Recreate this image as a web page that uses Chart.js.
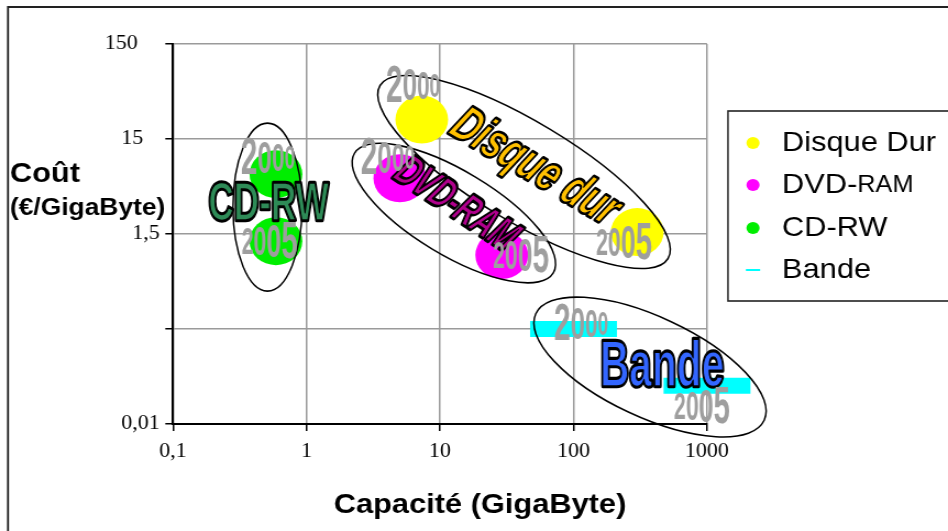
<!DOCTYPE html>
<html>
<head>
<meta charset="utf-8">
<script src="https://cdn.jsdelivr.net/npm/chart.js@4.4.1/dist/chart.umd.min.js"></script>
<style>
  html, body { margin: 0; padding: 0; background: #fff; }
  #myChart { width: 948px; height: 531px; display: block; }
</style>
</head>
<body>
<canvas id="myChart" width="862" height="531" style="width:948px;height:531px"></canvas>
<script>
//  data (capacity in GB, cost in EUR/GB)
const seriesNames = ['Disque Dur', 'DVD-RAM', 'CD-RW', 'Bande'];
const years = ['2000', '2005'];
const disqueCapacity = [7.3, 300];
const disqueCost = [24, 1.57];
const dvdCapacity = [5, 29];
const dvdCost = [5.8, 0.9];
const cdCapacity = [0.59, 0.59];
const cdCost = [6.4, 1.26];
const bandeCapacity = [100, 1000];
const bandeCost = [0.15, 0.038];

const xTicks = [0.1, 1, 10, 100, 1000];
const xTickLabels = ['0,1', '1', '10', '100', '1000'];
const yTicks = [0.015, 0.15, 1.5, 15, 150];
const yTickLabels = ['0,01', '', '1,5', '15   ', '150    '];

//  the picture is a bit wider than it is tall, the canvas is stretched by this
const S = 948 / 862;

//  annotations drawn over the chart, anchored in data units
const ellipses = [
  { x: 42.6, y: 6.74, rx: 168, ry: 50, angle: 31 },
  { x: 12.7, y: 2.49, rx: 116, ry: 42, angle: 31 },
  { x: 0.51, y: 2.88, rx: 34.5, ry: 84, angle: 0 },
  { x: 374, y: 0.0597, rx: 126, ry: 50, angle: 25 }
];
const wordArts = [
  { text: 'Disque dur', x: 51.5, y: 7.43, size: 33, sy: 1.5, angle: 33, fill: '#ffc000', italic: true },
  { text: 'DVD-RAM', x: 13.2, y: 3.03, size: 27, sy: 1.6, angle: 36, fill: '#b0008c', italic: true },
  { text: 'CD-RW', x: 0.52, y: 3.03, size: 32, sy: 1.7, angle: 0, fill: '#2e8b57', italic: false },
  { text: 'Bande', x: 460, y: 0.058, size: 37, sy: 1.75, angle: 0, fill: '#3366ff', italic: false }
];
const yearLabels = [
  { text: years[0], x: 6.28, y: 51.6 },
  { text: years[1], x: 239, y: 1.15 },
  { text: years[0], x: 4.07, y: 9.0 },
  { text: years[1], x: 40.4, y: 0.84 },
  { text: years[0], x: 0.515, y: 9.0 },
  { text: years[1], x: 0.53, y: 1.18 },
  { text: years[0], x: 114, y: 0.161 },
  { text: years[1], x: 918, y: 0.0216 }
];

function toPoints(xs, ys) {
  return xs.map((x, i) => ({ x: x, y: ys[i] }));
}

function drawWordArt(ctx, a, x, y) {
  ctx.save();
  ctx.translate(x, y);
  ctx.rotate(a.angle * Math.PI / 180);
  ctx.scale(1, a.sy);
  ctx.font = (a.italic ? 'italic ' : '') + 'bold ' + a.size + 'px "Liberation Sans", Arial, sans-serif';
  ctx.textAlign = 'center';
  ctx.textBaseline = 'middle';
  ctx.lineJoin = 'round';
  ctx.lineWidth = 2.6;
  ctx.strokeStyle = '#000';
  ctx.strokeText(a.text, 0, 0);
  ctx.fillStyle = a.fill;
  ctx.fillText(a.text, 0, 0);
  ctx.lineWidth = 1;
  ctx.strokeText(a.text, 0, 0);
  ctx.restore();
}

function drawYear(ctx, text, cx, cy) {
  const base = 27;
  const sizes = text === '2000' ? [1, 0.88, 0.76, 0.64] : [0.72, 0.78, 0.9, 1];
  const font = s => 'bold ' + (base * s) + 'px "Liberation Sans", Arial, sans-serif';
  let widths = [], total = 0;
  for (let i = 0; i < text.length; i++) {
    ctx.font = font(sizes[i]);
    widths[i] = ctx.measureText(text[i]).width;
    total += widths[i];
  }
  let px = cx - total / 2;
  ctx.fillStyle = '#9e9e9e';
  for (let i = 0; i < text.length; i++) {
    ctx.save();
    ctx.translate(px + widths[i] / 2, cy);
    ctx.scale(1, 1.9);
    ctx.font = font(sizes[i]);
    ctx.textAlign = 'center';
    ctx.textBaseline = 'middle';
    ctx.fillText(text[i], 0, 0);
    ctx.restore();
    px += widths[i];
  }
}

const decorations = {
  id: 'decorations',
  afterDatasetsDraw(chart) {
    const ctx = chart.ctx, xs = chart.scales.x, ys = chart.scales.y;
    //  ellipses in screen pixels
    ctx.save();
    ctx.scale(1 / S, 1);
    ctx.strokeStyle = '#000';
    ctx.lineWidth = 1.6;
    ellipses.forEach(e => {
      ctx.beginPath();
      ctx.ellipse(xs.getPixelForValue(e.x) * S, ys.getPixelForValue(e.y), e.rx, e.ry, e.angle * Math.PI / 180, 0, Math.PI * 2);
      ctx.stroke();
    });
    ctx.restore();
    wordArts.forEach(a => drawWordArt(ctx, a, xs.getPixelForValue(a.x), ys.getPixelForValue(a.y)));
    yearLabels.forEach(l => drawYear(ctx, l.text, xs.getPixelForValue(l.x), ys.getPixelForValue(l.y)));
  },
  afterDraw(chart) {
    const ctx = chart.ctx;
    ctx.save();
    //  outer frame
    ctx.save();
    ctx.scale(1 / S, 1);
    ctx.strokeStyle = '#222';
    ctx.lineWidth = 2;
    ctx.beginPath();
    ctx.moveTo(8, 540);
    ctx.lineTo(8, 7);
    ctx.lineTo(960, 7);
    ctx.stroke();
    //  legend box
    ctx.fillStyle = '#fff';
    ctx.fillRect(728, 111, 240, 190);
    ctx.lineWidth = 1.6;
    ctx.strokeRect(728, 111, 240, 190);
    ctx.restore();

    //  legend items
    const rowY = [143, 185, 228, 270];
    const mx = 753 / S, tx = 782 / S;
    chart.data.datasets.forEach((ds, i) => {
      const y = rowY[i];
      if (ds.pointStyle === 'line') {
        ctx.strokeStyle = ds.borderColor;
        ctx.lineWidth = 2;
        ctx.beginPath();
        ctx.moveTo(mx - 6.5, y);
        ctx.lineTo(mx + 6.5, y);
        ctx.stroke();
      } else {
        ctx.fillStyle = ds.backgroundColor;
        ctx.beginPath();
        ctx.arc(mx, y, 6, 0, Math.PI * 2);
        ctx.fill();
      }
      ctx.fillStyle = '#000';
      ctx.textBaseline = 'middle';
      ctx.textAlign = 'left';
      const label = ds.label;
      if (label === 'DVD-RAM') {
        ctx.font = '28px "Liberation Sans", Arial, sans-serif';
        ctx.fillText('DVD-', tx, y);
        const w = ctx.measureText('DVD-').width;
        ctx.font = '23px "Liberation Sans", Arial, sans-serif';
        ctx.fillText('RAM', tx + w, y + 1);
      } else {
        ctx.font = '28px "Liberation Sans", Arial, sans-serif';
        ctx.fillText(label, tx, y);
      }
    });

    //  axis titles
    ctx.fillStyle = '#000';
    ctx.textBaseline = 'alphabetic';
    ctx.textAlign = 'left';
    ctx.font = 'bold 28px "Liberation Sans", Arial, sans-serif';
    ctx.fillText('Coût', 9, 182);
    ctx.font = 'bold 24px "Liberation Sans", Arial, sans-serif';
    ctx.fillText('(€/GigaByte)', 9, 215);
    ctx.textAlign = 'center';
    ctx.font = 'bold 28px "Liberation Sans", Arial, sans-serif';
    ctx.fillText('Capacité (GigaByte)', 480 / S, 513);
    ctx.restore();
  }
};

const ctx = document.getElementById('myChart');

new Chart(ctx, {
  type: 'scatter',
  data: {
    datasets: [
      {
        label: seriesNames[0],
        data: toPoints(disqueCapacity, disqueCost),
        backgroundColor: '#ffff00',
        borderWidth: 0,
        pointRadius: 24,
        pointHoverRadius: 24,
        clip: false
      },
      {
        label: seriesNames[1],
        data: toPoints(dvdCapacity, dvdCost),
        backgroundColor: '#ff00ff',
        borderWidth: 0,
        pointRadius: 24,
        pointHoverRadius: 24,
        clip: false
      },
      {
        label: seriesNames[2],
        data: toPoints(cdCapacity, cdCost),
        backgroundColor: '#00ee00',
        borderWidth: 0,
        pointRadius: 24,
        pointHoverRadius: 24,
        clip: false
      },
      {
        label: seriesNames[3],
        data: toPoints(bandeCapacity, bandeCost),
        pointStyle: 'line',
        borderColor: '#00ffff',
        backgroundColor: '#00ffff',
        borderWidth: 16,
        pointRadius: 39.5,
        pointHoverRadius: 39.5,
        pointBorderWidth: 16,
        clip: false
      }
    ]
  },
  options: {
    responsive: false,
    animation: false,
    devicePixelRatio: 1,
    layout: { autoPadding: false, padding: { left: 0, top: 44, right: 862 - 707 / S, bottom: 0 } },
    plugins: {
      legend: { display: false },
      tooltip: { enabled: false },
      title: { display: false }
    },
    scales: {
      x: {
        type: 'logarithmic',
        min: 0.1,
        max: 1000,
        afterBuildTicks: scale => { scale.ticks = xTicks.map(v => ({ value: v })); },
        afterFit: scale => { scale.height = 107; },
        ticks: {
          callback: (value, index) => xTickLabels[index],
          font: { family: '"Liberation Serif", "Times New Roman", serif', size: 20 },
          color: '#000',
          padding: 9,
          maxRotation: 0,
          autoSkip: false
        },
        grid: { color: '#9a9a9a', lineWidth: 1.5, tickLength: 7, tickColor: '#000', tickWidth: 1.5 },
        border: { display: true, color: '#000', width: 2 }
      },
      y: {
        type: 'logarithmic',
        min: 0.015,
        max: 150,
        afterBuildTicks: scale => { scale.ticks = yTicks.map(v => ({ value: v })); },
        afterFit: scale => { scale.width = 173 / S; },
        ticks: {
          callback: (value, index) => yTickLabels[index],
          font: { family: '"Liberation Serif", "Times New Roman", serif', size: 20 },
          color: '#000',
          padding: 5,
          autoSkip: false
        },
        grid: { color: '#9a9a9a', lineWidth: 1.5, tickLength: 7, tickColor: '#000', tickWidth: 1.5 },
        border: { display: true, color: '#000', width: 2 }
      }
    }
  },
  plugins: [decorations]
});
</script>
</body>
</html>
